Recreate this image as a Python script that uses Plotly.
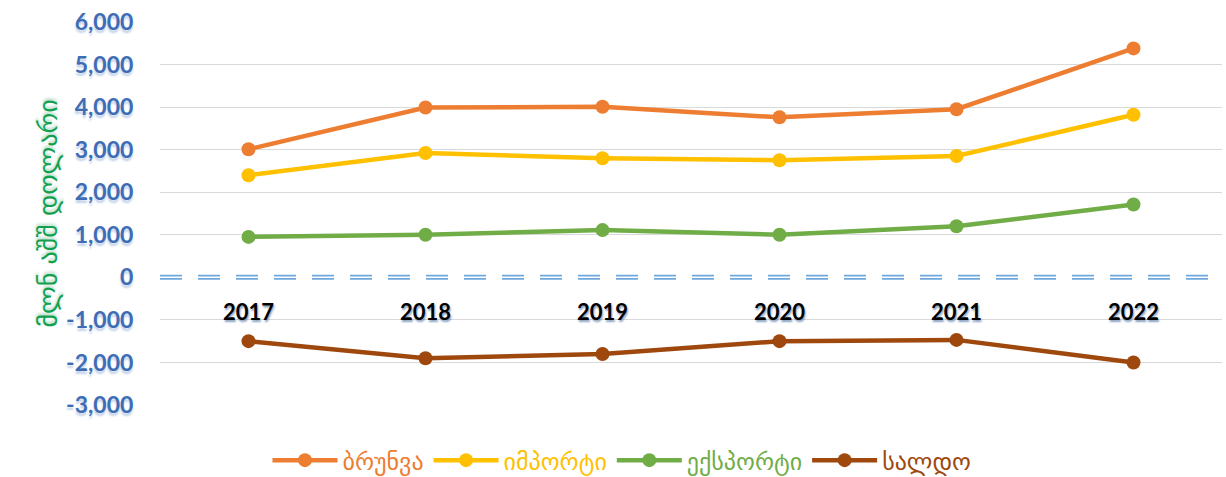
import plotly.graph_objects as go

# Data (million USD)
years = ['2017', '2018', '2019', '2020', '2021', '2022']
turnover = [3010, 3990, 4010, 3760, 3950, 5380]
imports = [2400, 2920, 2800, 2750, 2850, 3820]
exports = [950, 1000, 1110, 1000, 1200, 1710]
balance = [-1500, -1900, -1800, -1500, -1470, -2000]

series_names = ['ბრუნვა', 'იმპორტი', 'ექსპორტი', 'სალდო']
y_ticks = [-3000, -2000, -1000, 0, 1000, 2000, 3000, 4000, 5000, 6000]
y_tick_labels = ['-3,000', '-2,000', '-1,000', '0', '1,000', '2,000',
                 '3,000', '4,000', '5,000', '6,000']

COLORS = {
    'turnover': '#ED7D31',
    'imports': '#FFC000',
    'exports': '#70AD47',
    'balance': '#9E480E',
    'axis_blue': '#3E6DB5',
    'title_green': '#12A04F',
    'grid': '#D9D9D9',
    'zero': '#6FA8DC',
}

fig = go.Figure()

for name, values, key in zip(series_names,
                             [turnover, imports, exports, balance],
                             ['turnover', 'imports', 'exports', 'balance']):
    fig.add_trace(go.Scatter(
        x=years,
        y=values,
        mode='lines+markers',
        name=f"<span style='color:{COLORS[key]}'>{name}</span>",
        line=dict(color=COLORS[key], width=4.5),
        marker=dict(color=COLORS[key], size=14),
    ))

# double dashed zero line
fig.add_shape(type='line', xref='paper', yref='y', x0=0, x1=1, y0=0, y1=0,
              line=dict(color=COLORS['zero'], width=5, dash='22px,16px'))
fig.add_shape(type='line', xref='paper', yref='y', x0=0, x1=1, y0=0, y1=0,
              line=dict(color='white', width=1.5))

fig.update_layout(
    width=1226,
    height=477,
    paper_bgcolor='#ffffff',
    plot_bgcolor='#ffffff',
    margin=dict(l=160, r=4, t=22, b=72, autoexpand=False),
    font=dict(family='Lato, DejaVu Sans, sans-serif'),
    showlegend=True,
    legend=dict(
        orientation='h',
        xanchor='center',
        x=0.435,
        yanchor='middle',
        y=-0.145,
        itemwidth=65,
        font=dict(size=24, family='DejaVu Sans, sans-serif'),
        bgcolor='rgba(0,0,0,0)',
    ),
)

fig.update_xaxes(
    type='category',
    range=[-0.5, 5.5],
    showgrid=False,
    showline=False,
    zeroline=False,
    automargin=False,
    anchor='free',
    position=3 / 9,
    ticks='outside',
    ticklen=15,
    tickcolor='rgba(0,0,0,0)',
    tickfont=dict(size=22, color='#000000', family='Lato, sans-serif', weight='bold',
                  shadow='1px 2px 2px rgba(60,100,150,0.6)'),
)

fig.update_yaxes(
    range=[-3000, 6000],
    tickvals=y_ticks,
    ticktext=y_tick_labels,
    showgrid=True,
    gridcolor=COLORS['grid'],
    gridwidth=1.2,
    zeroline=False,
    showline=False,
    automargin=False,
    ticks='outside',
    ticklen=21,
    tickcolor='rgba(0,0,0,0)',
    tickfont=dict(size=23, color=COLORS['axis_blue'], family='Lato, sans-serif', weight='bold',
                  shadow='0px 3px 2px rgba(90,130,190,0.35)'),
    title=dict(text='მლნ აშშ დოლარი', standoff=0,
               font=dict(size=26, color=COLORS['title_green'], family='DejaVu Sans, sans-serif',
                         shadow='2px 0px 3px rgba(20,140,80,0.35)')),
)

# drop the page's default body margin so the figure fills the window exactly
fig.write_html('out.html', config={'displayModeBar': False},
               post_script="document.body.style.margin='0';")
